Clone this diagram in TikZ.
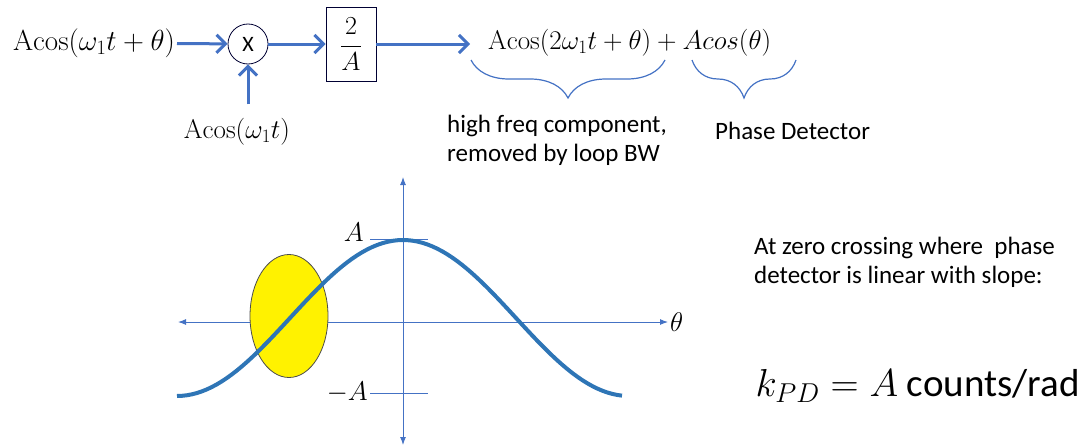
\documentclass[tikz,border=0pt]{standalone}
\usepackage{fix-cm}
\usepackage[no-math]{fontspec}
\setmainfont{Carlito}
\usetikzlibrary{arrows.meta, positioning, decorations.pathreplacing}
\definecolor{sigblue}{HTML}{4472C4}
\definecolor{curveblue}{HTML}{2E75B6}
\tikzstyle{block} = [rectangle, draw=black!80!blue, thick, minimum width=50pt, minimum height=74pt, inner sep=0pt]
\tikzstyle{mixer} = [circle, draw=black!80!blue, thick, minimum size=40pt, inner sep=0pt]
\tikzstyle{arrow} = [sigblue, line width=3pt, -{Straight Barb[length=9pt,width=18pt]}]
\tikzstyle{axis} = [sigblue, line width=1pt, {Latex[length=8pt,width=6pt]}-{Latex[length=8pt,width=6pt]}]
\tikzstyle{txt} = [inner sep=2pt, font=\fontsize{25}{29}\selectfont]
\tikzstyle{eqn} = [inner sep=2pt, font=\fontsize{27}{31}\selectfont]
\tikzstyle{underbrace} = [sigblue, line width=1.2pt, decorate, decoration={brace, mirror, amplitude=38pt}]

\begin{document}
\begin{tikzpicture}[x=1pt, y=-1pt]
        \useasboundingbox (0,0) rectangle (1091,447);
        % Mixer chain along the top
        \node (in) [eqn, anchor=east, font=\fontsize{29}{33}\selectfont] at (177,43) {$\mathrm{Acos}(\omega_1 t+\theta)$};
        \node (mix) [mixer, font=\fontsize{22}{26}\selectfont] at (248,44) {X};
        \node (gain) [block, font=\fontsize{26}{30}\selectfont] at (351,44) {$\displaystyle\frac{2}{A}$};
        \node (out) [eqn, anchor=west] at (486,43) {$\mathrm{Acos}(2\omega_1 t+\theta)+Acos(\theta)$};
        \coordinate (outin) at (470,44);
        \node (ref) [eqn] at (237,132) {$\mathrm{Acos}(\omega_1 t)$};

        \draw [arrow] (in) -- (mix);
        \draw [arrow] (mix) -- (gain);
        \draw [arrow] (gain) -- (outin);
        \draw [arrow, shorten <=12pt] (mix |- ref.north) -- (mix);

        % Braces under the output terms
        \draw [underbrace] (471,60) -- (665,60);
        \draw [underbrace] (692,60) -- (796,60);
        \node (hf) [txt, align=left, anchor=north west] at (445,113) {high freq component,\\removed by loop BW};
        \node (pd) [txt, anchor=west] at (713,131) {Phase Detector};

        % Phase detector characteristic
        \node (theta) [eqn, anchor=west] at (668,322) {$\theta$};
        \draw [axis] (178,322) -- (theta.west);
        \draw [axis] (403,445) -- (403,177);
        \node (pos) [eqn, anchor=east] at (366,232) {$A$};
        \node (neg) [eqn, anchor=east] at (370,392) {$-A$};
        \draw [sigblue, line width=1pt] (370,239) -- (428,239);
        \draw [sigblue, line width=1pt] (neg.east |- 0,393) -- (428,393);
        \draw [fill=yellow, draw=black!70, line width=0.8pt] (289,316) ellipse [x radius=39, y radius=61.5];
        \draw [curveblue, line width=4pt] plot[domain=177:622, samples=90] (\x, {318-78*cos((\x-403)/226*180)});

        % Slope note
        \node (note) [txt, align=left, anchor=north west] at (752,235) {At zero crossing where\ \ phase\\detector is linear with slope:};
        \node (kpd) [anchor=west, font=\fontsize{39}{43}\selectfont] at (752,386) {$k_{PD}=A$ counts/rad};
\end{tikzpicture}
\end{document}
